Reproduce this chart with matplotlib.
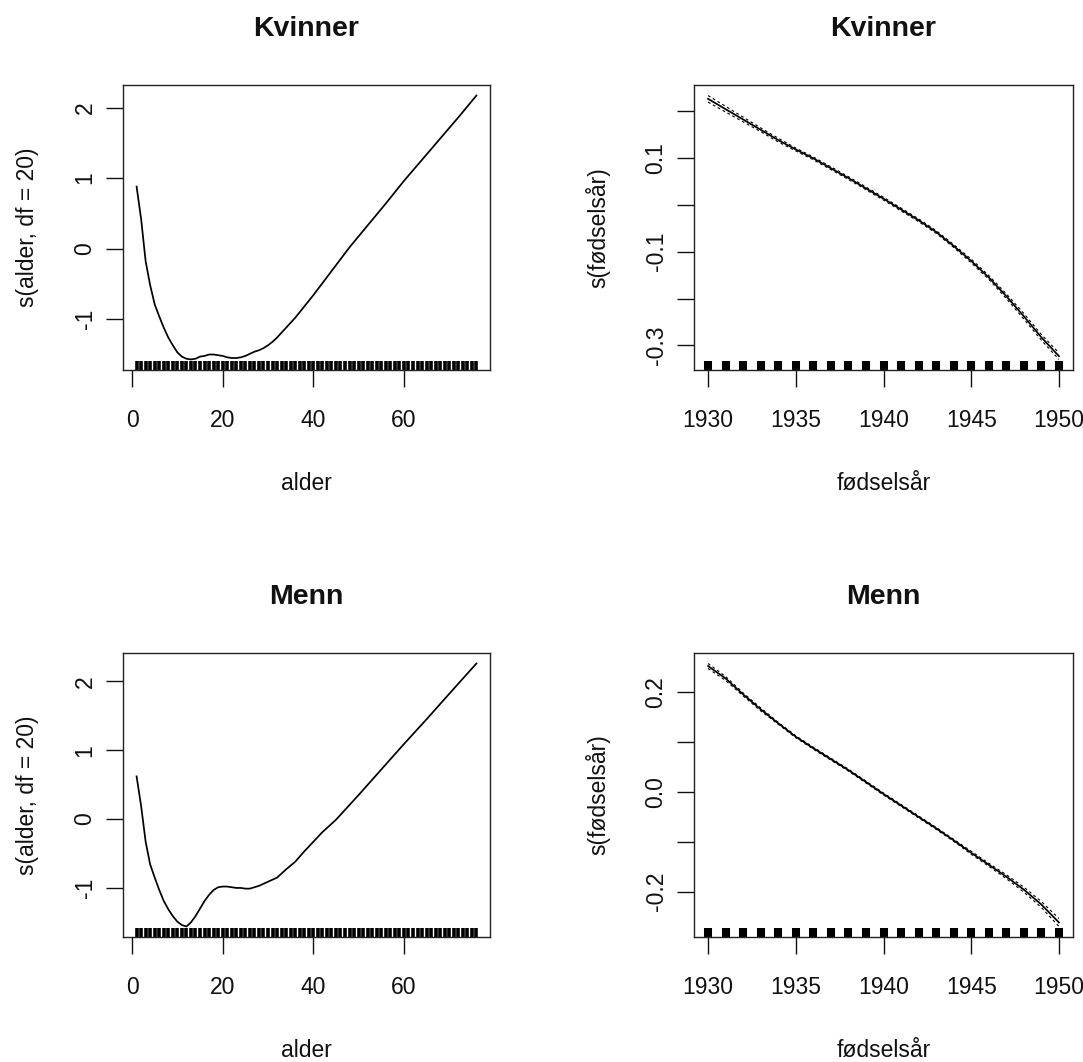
import numpy as np
import matplotlib
matplotlib.use("Agg")
import matplotlib.pyplot as plt
import matplotlib.transforms as mtransforms

plt.rcParams['font.family'] = ['Liberation Sans', 'DejaVu Sans']
plt.rcParams['axes.xmargin'] = 0.04
plt.rcParams['axes.ymargin'] = 0.04
plt.rcParams['axes.unicode_minus'] = False

# ---------------- data ----------------
titles = ["Kvinner", "Kvinner", "Menn", "Menn"]
alder_xlabel = "alder"
aar_xlabel = "fødselsår"
alder_ylabel = "s(alder, df = 20)"
aar_ylabel = "s(fødselsår)"

alder_k = [1, 2, 3, 4, 5, 6, 7, 8, 9, 10, 11, 12, 13, 14, 15, 16, 17, 18, 19, 20,
           21, 22, 23, 24, 25, 26, 27, 28, 29, 30, 31, 32, 33, 34, 35, 36,
           40, 44, 48, 52, 56, 60, 64, 68, 72, 76]
s_alder_k = [0.88, 0.42, -0.18, -0.52, -0.79, -0.96, -1.12, -1.26, -1.37, -1.47,
             -1.53, -1.56, -1.57, -1.56, -1.53, -1.52, -1.50, -1.50, -1.51, -1.52,
             -1.54, -1.55, -1.55, -1.54, -1.52, -1.49, -1.46, -1.44, -1.41, -1.37,
             -1.32, -1.26, -1.19, -1.12, -1.05, -0.98,
             -0.66, -0.32, 0.02, 0.33, 0.64, 0.96, 1.26, 1.56, 1.86, 2.17]

alder_m = [1, 2, 3, 4, 5, 6, 7, 8, 9, 10, 11, 12, 13, 14, 15, 16, 17, 18, 19, 20,
           21, 22, 23, 24, 25, 26, 27, 28, 29, 30, 32, 34, 36, 38, 40, 42, 45,
           50, 55, 60, 65, 70, 76]
s_alder_m = [0.62, 0.19, -0.33, -0.66, -0.85, -1.03, -1.19, -1.31, -1.41, -1.49,
             -1.54, -1.56, -1.50, -1.41, -1.30, -1.19, -1.10, -1.03, -0.99, -0.98,
             -0.98, -0.99, -1.00, -1.00, -1.01, -1.01, -0.99, -0.97, -0.94, -0.91,
             -0.85, -0.73, -0.62, -0.47, -0.33, -0.19, -0.01,
             0.35, 0.72, 1.09, 1.45, 1.82, 2.26]

aar = [1930, 1931, 1932, 1933, 1934, 1935, 1936, 1937, 1938, 1939, 1940,
       1941, 1942, 1943, 1944, 1945, 1946, 1947, 1948, 1949, 1950]
s_aar_k = [0.226, 0.204, 0.182, 0.160, 0.138, 0.118, 0.099, 0.078, 0.057, 0.035,
           0.013, -0.010, -0.033, -0.058, -0.088, -0.120, -0.155, -0.195, -0.238,
           -0.283, -0.323]
se_aar_k = [0.007, 0.006, 0.005, 0.004, 0.004, 0.003, 0.003, 0.003, 0.003, 0.003,
            0.003, 0.003, 0.003, 0.003, 0.003, 0.004, 0.004, 0.005, 0.006, 0.006,
            0.007]
s_aar_m = [0.253, 0.228, 0.196, 0.166, 0.138, 0.111, 0.088, 0.066, 0.044, 0.020,
           -0.004, -0.027, -0.050, -0.073, -0.097, -0.122, -0.146, -0.170, -0.196,
           -0.226, -0.262]
se_aar_m = [0.005, 0.004, 0.003, 0.003, 0.002, 0.002, 0.002, 0.002, 0.002, 0.002,
            0.002, 0.002, 0.002, 0.002, 0.002, 0.003, 0.003, 0.004, 0.005, 0.006,
            0.008]

rug_alder = list(range(1, 77))
rug_aar = aar

alder_xticks = [0, 20, 40, 60]
alder_yticks = [-1, 0, 1, 2]
aar_xticks = [1930, 1935, 1940, 1945, 1950]
aar_k_yticks = [-0.3, -0.2, -0.1, 0.0, 0.1, 0.2]
aar_k_yticklabels = ["-0.3", "", "-0.1", "", "0.1", ""]
aar_m_yticks = [-0.2, -0.1, 0.0, 0.1, 0.2]
aar_m_yticklabels = ["-0.2", "", "0.0", "", "0.2"]

# ---------------- figure ----------------
W, H = 1083, 1062
fig = plt.figure(figsize=(W / 100, H / 100), dpi=100)

TICK_FS = 16.5
LAB_FS = 16.5
TITLE_FS = 20.5
INK = "#111111"


def px_axes(l, r, t, b):
    return fig.add_axes([l / W, 1 - b / H, (r - l) / W, (b - t) / H])


def style(ax, title, xlabel, ylabel, xticks, yticks, yticklabels=None):
    ax.set_title(title, fontsize=TITLE_FS, fontweight="bold", pad=35, color=INK)
    ax.set_xlabel(xlabel, fontsize=LAB_FS, labelpad=29, color=INK)
    ax.set_ylabel(ylabel, fontsize=LAB_FS, labelpad=25, color=INK)
    ax.set_xticks(xticks)
    ax.set_yticks(yticks)
    if yticklabels is not None:
        ax.set_yticklabels(yticklabels)
    ax.tick_params(axis="both", direction="out", length=12, width=1.0,
                   labelsize=TICK_FS, colors=INK)
    ax.tick_params(axis="x", pad=16)
    ax.tick_params(axis="y", pad=7)
    for lab in ax.get_yticklabels():
        lab.set_rotation(90)
        lab.set_va("center")
    for sp in ax.spines.values():
        sp.set_linewidth(1.0)
        sp.set_color("#222222")


def rug(ax, xs, lw):
    xl, yl = ax.get_xlim(), ax.get_ylim()
    trans = mtransforms.blended_transform_factory(ax.transData, ax.transAxes)
    ax.vlines(xs, 0, 0.03, transform=trans, colors="black", linewidth=lw)
    ax.set_xlim(xl)
    ax.set_ylim(yl)


def alder_panel(ax, x, y, title):
    ax.plot(x, y, color="black", linewidth=1.25)
    ax.autoscale_view()
    rug(ax, rug_alder, 2.6)
    style(ax, title, alder_xlabel, alder_ylabel, alder_xticks, alder_yticks)


def aar_panel(ax, x, y, se, title, yt, ytl):
    y = np.asarray(y)
    se = np.asarray(se)
    ax.plot(x, y + se, color="black", linewidth=0.8, linestyle=(0, (2.5, 2.5)))
    ax.plot(x, y - se, color="black", linewidth=0.8, linestyle=(0, (2.5, 2.5)))
    ax.plot(x, y, color="black", linewidth=1.25)
    ax.autoscale_view()
    rug(ax, rug_aar, 5.8)
    style(ax, title, aar_xlabel, aar_ylabel, aar_xticks, yt, ytl)


ax1 = px_axes(123, 490, 85, 370)
ax2 = px_axes(694, 1073, 85, 370)
ax3 = px_axes(123, 490, 653, 937)
ax4 = px_axes(694, 1073, 653, 937)

alder_panel(ax1, alder_k, s_alder_k, titles[0])
aar_panel(ax2, aar, s_aar_k, se_aar_k, titles[1], aar_k_yticks, aar_k_yticklabels)
alder_panel(ax3, alder_m, s_alder_m, titles[2])
aar_panel(ax4, aar, s_aar_m, se_aar_m, titles[3], aar_m_yticks, aar_m_yticklabels)

fig.savefig("out.png", dpi=100, facecolor="white")
